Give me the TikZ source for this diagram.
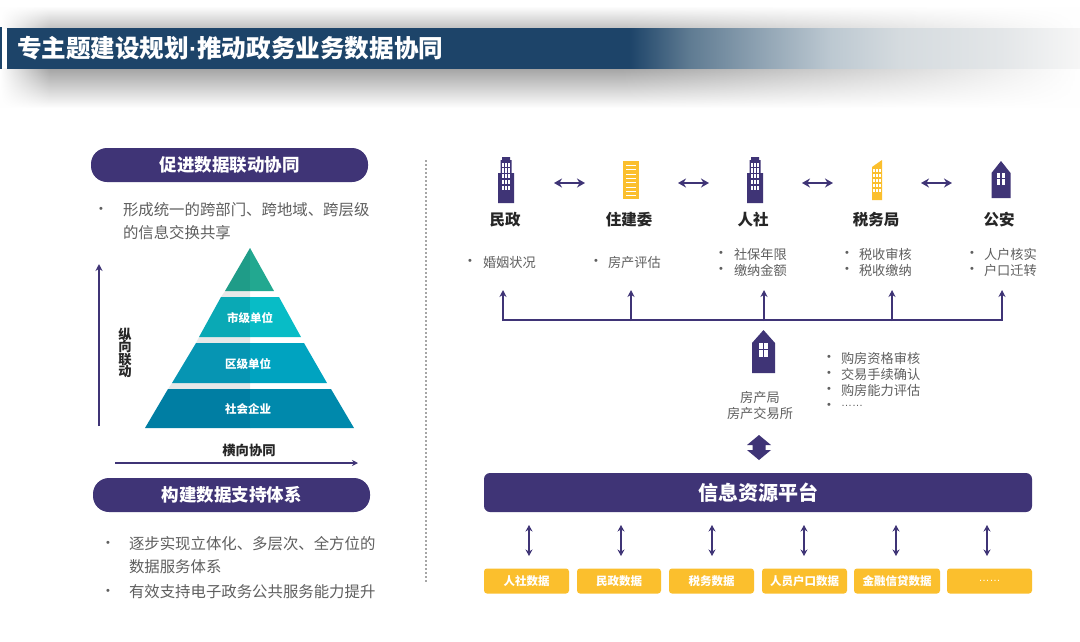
\documentclass[tikz,border=0pt]{standalone}
\usepackage{fontspec}
\setmainfont{Noto Sans CJK SC}
\newfontfamily\latinf{Liberation Sans}
\usetikzlibrary{arrows.meta,fadings,shapes.geometric}
\definecolor{navy}{HTML}{1D4469}
\definecolor{pur}{HTML}{3F3476}
\definecolor{gold}{HTML}{FBBF2D}
\definecolor{txt}{HTML}{5F5F5F}
\definecolor{pa}{HTML}{1F9C88}\definecolor{pb}{HTML}{22A890}
\definecolor{pc}{HTML}{0AA9B5}\definecolor{pd}{HTML}{08BCC6}
\definecolor{pe}{HTML}{0695B3}\definecolor{pf}{HTML}{00A3C0}
\definecolor{pg}{HTML}{007EA3}\definecolor{ph}{HTML}{0089AC}
\definecolor{ba}{HTML}{5F7B92}\definecolor{bb}{HTML}{8FA3B3}\definecolor{bc}{HTML}{BCC8D1}
\definecolor{bd}{HTML}{D5DBDF}\definecolor{be}{HTML}{E3E6E8}\definecolor{bf}{HTML}{F6F6F6}
\pgfdeclarehorizontalshading{bandshade}{100bp}{color(0bp)=(navy); color(54bp)=(navy); color(56.8bp)=(ba); color(60.1bp)=(bb); color(63.35bp)=(bc); color(66.6bp)=(bd); color(71.3bp)=(be); color(75bp)=(bf); color(100bp)=(bf)}
\tikzset{
  lab/.style={inner sep=0pt,outer sep=0pt,align=center},
  pill/.style={lab,fill=pur,rounded corners=16pt,text=white,font=\bfseries\fontsize{17.5}{20}\selectfont},
  body/.style={lab,anchor=west,text=txt,font=\fontsize{15.4}{18}\selectfont},
  small/.style={lab,anchor=west,text=txt,font=\fontsize{13.2}{15}\selectfont},
  bul/.style={lab,text=txt,font=\latinf\fontsize{11}{12}\selectfont},
  head/.style={lab,text=black!85,font=\bfseries\fontsize{15.5}{17}\selectfont},
  pyr/.style={lab,text=white,font=\bfseries\fontsize{11.5}{13}\selectfont},
  axis/.style={lab,text=black!85,font=\bfseries\fontsize{13.3}{14}\selectfont},
  databox/.style={lab,fill=gold,rounded corners=3pt,text=white,font=\bfseries\fontsize{11.5}{13}\selectfont},
  conn/.style={draw=pur,line width=1.6pt},
  upa/.style={conn,-{Stealth[length=7pt,width=7pt]}},
  dbl/.style={conn,line width=1.8pt,{Stealth[length=8pt,width=9pt]}-{Stealth[length=8pt,width=9pt]}},
  vdbl/.style={conn,line width=1.3pt,{Stealth[length=6.5pt,width=7pt]}-{Stealth[length=6.5pt,width=7pt]}},
  gapb/.style={fill=black!9},
}
% tall tower, centred on x, top y
\newcommand{\tower}[2]{\begin{scope}[shift={(#1,#2)}]
 \fill[pur] (-4,0)--(4,0)--(4,3)--(5.5,3)--(5.5,16)--(8,16)--(8,46)--(-8,46)--(-8,16)--(-5.5,16)--(-5.5,3)--(-4,3)--cycle;
 \foreach \r in {0,...,4}{\foreach \c in {-4.4,-1.1,2.2}{\fill[white] (\c,5.5+\r*5.8) rectangle ++(2.2,4.2);}}
\end{scope}}
\newcommand{\house}[6]{% cx, apex y, shoulder y, bottom y, half width, window half width
 \fill[pur] (#1,#2)--(#1+#5,#3)--(#1+#5,#4)--(#1-#5,#4)--(#1-#5,#3)--cycle;
 \pgfmathsetmacro{\wt}{#3-.5}
 \pgfmathsetmacro{\wm}{#3+(#4-#3)*.22}
 \pgfmathsetmacro{\wb}{#3+(#4-#3)*.47}
 \fill[white] (#1-#6,\wt) rectangle (#1-.7,\wm-.8);
 \fill[white] (#1+.7,\wt) rectangle (#1+#6,\wm-.8);
 \fill[white] (#1-#6,\wm+.8) rectangle (#1-.7,\wb);
 \fill[white] (#1+.7,\wm+.8) rectangle (#1+#6,\wb);
}
\begin{document}
\begin{tikzpicture}[x=1pt,y=-1pt]
\useasboundingbox (0,0) rectangle (1080,641);
\fill[white] (0,0) rectangle (1080,641);
% title band with shadow
\shade[top color=white,bottom color=black!24] (0,6) rectangle (1080,28);
\shade[top color=black!36,middle color=black!13,bottom color=white] (0,68) rectangle (1080,108);
\fill[white,path fading=west] (620,0) rectangle (1080,110);
\fill[white,path fading=east] (0,0) rectangle (50,110);
\fill[navy] (0,27) rectangle (2,69);
\fill[shading=bandshade] (7,28) rectangle (1080,68);
\node[lab,anchor=west,text=white,font=\bfseries\fontsize{24.6}{28}\selectfont] (title) at (17,48) {专主题建设规划{\latinf ·}推动政务业务数据协同};
% left column
\node[pill,minimum width=277pt,minimum height=34pt] (p1) at (229.5,165) {促进数据联动协同};
\node[bul] (b1) at (101,210) {•};
\node[body] (t1a) at (123,210) {形成统一的跨部门、跨地域、跨层级};
\node[body] (t1b) at (123,233) {的信息交换共享};
% pyramid
\fill[gapb] (225,291)--(250,291)--(250,297)--(221,297)--cycle;
\fill[gapb] (199,337)--(250,337)--(250,343)--(196,343)--cycle;
\fill[gapb] (172,383)--(250,383)--(250,389)--(168,389)--cycle;
\fill[pa] (250,248)--(250,291)--(225,291)--cycle;
\fill[pb] (250,248)--(274,291)--(250,291)--cycle;
\fill[pc] (221,297)--(250,297)--(250,337)--(199,337)--cycle;
\fill[pd] (250,297)--(279,297)--(301,337)--(250,337)--cycle;
\fill[pe] (196,343)--(250,343)--(250,383)--(172,383)--cycle;
\fill[pf] (250,343)--(304,343)--(327,383)--(250,383)--cycle;
\fill[pg] (168,389)--(250,389)--(250,428)--(145,428)--cycle;
\fill[ph] (250,389)--(331,389)--(354,428)--(250,428)--cycle;
\node[pyr] (py1) at (250,318.5) {市级单位};
\node[pyr] (py2) at (248,364.5) {区级单位};
\node[pyr] (py3) at (248,409.5) {社会企业};
\coordinate (va) at (99,426); \coordinate (vb) at (99,264);
\draw[upa] (va) -- (vb);
\coordinate (ha) at (115,463); \coordinate (hb) at (358,463);
\draw[conn,-{Stealth[length=6pt,width=6pt]}] (ha) -- (hb);
\node[axis,text width=14pt] (vl) at (125,353) {纵\\[-1.6pt]向\\[-1.6pt]联\\[-1.6pt]动};
\node[axis] (hl) at (249,450.5) {横向协同};
\node[pill,minimum width=277pt,minimum height=34pt] (p2) at (231.5,495) {构建数据支持体系};
\node[bul] (b2) at (108,544) {•};
\node[body] (t2a) at (129,544) {逐步实现立体化、多层次、全方位的};
\node[body] (t2b) at (129,567) {数据服务体系};
\node[bul] (b3) at (108,592) {•};
\node[body] (t2c) at (129,592) {有效支持电子政务公共服务能力提升};
% divider
\coordinate (da) at (426,160); \coordinate (db) at (426,583);
\draw[black!35,line width=1.2pt,dash pattern=on 2pt off 2pt] (da) -- (db);
% icons
\tower{506}{157}
\fill[gold] (623,161) rectangle (639,199);
\foreach \i in {0,...,7}{\fill[white] (626,165+\i*4.3) rectangle (636,166.1+\i*4.3);}
\tower{755}{157}
\fill[gold] (872,167)--(882,160)--(882,200)--(872,200)--cycle;
\foreach \r in {0,...,4}{\foreach \c in {873.2,876.2,879.2}{\fill[white] (\c,168.5+\r*5) rectangle ++(2.1,3.6);}}
\house{1001}{161}{173}{198}{9.5}{3.7}
% heads
\node[head] (h1) at (505,219.5) {民政};
\node[head] (h2) at (629,219.5) {住建委};
\node[head] (h3) at (753,219.5) {人社};
\node[head] (h4) at (876,219.5) {税务局};
\node[head] (h5) at (999,219.5) {公安};
% horizontal double arrows
\foreach \n/\xa/\xb in {1/554/585,2/678/709,3/802/833,4/921/952}{
  \coordinate (l\n) at (\xa,183); \coordinate (r\n) at (\xb,183);
  \draw[dbl] (l\n) -- (r\n);}
% small lists
\node[bul] at (470,262) {•}; \node[small] (s1) at (483,262.5) {婚姻状况};
\node[bul] at (596,262) {•}; \node[small] (s2) at (608,262.5) {房产评估};
\node[bul] at (721,254) {•}; \node[small] (s3a) at (734,254.5) {社保年限};
\node[bul] at (721,270) {•}; \node[small] (s3b) at (734,270.5) {缴纳金额};
\node[bul] at (847,254) {•}; \node[small] (s4a) at (859,254.5) {税收审核};
\node[bul] at (847,270) {•}; \node[small] (s4b) at (859,270.5) {税收缴纳};
\node[bul] at (972,254) {•}; \node[small] (s5a) at (984,254.5) {人户核实};
\node[bul] at (972,270) {•}; \node[small] (s5b) at (984,270.5) {户口迁转};
% bus
\coordinate (bl) at (503,320); \coordinate (br) at (1002,320);
\draw[conn] (bl) -- (br);
\foreach \n/\x in {1/503,2/631,3/764,4/892,5/1002}{
  \coordinate (ua\n) at (\x,321); \coordinate (ub\n) at (\x,290);
  \draw[upa] (ua\n) -- (ub\n);}
% centre
\house{763.5}{330}{343}{373}{11.5}{4.2}
\node[lab,text=txt,font=\fontsize{13.2}{16}\selectfont] (fj) at (760,405.5) {房产局\\房产交易所};
\node[bul] at (829,358) {•}; \node[small] (c1) at (841,358.5) {购房资格审核};
\node[bul] at (829,374) {•}; \node[small] (c2) at (841,374.5) {交易手续确认};
\node[bul] at (829,390) {•}; \node[small] (c3) at (841,390.5) {购房能力评估};
\node[bul] at (829,406) {•}; \node[small,font=\latinf\fontsize{11}{12}\selectfont] (c4) at (841,406) {……};
\fill[pur] (759,435)--(771,445)--(765.5,445)--(765.5,450)--(771,450)--(759,460)--(747,450)--(752.5,450)--(752.5,445)--(747,445)--cycle;
% platform
\node[lab,fill=pur,rounded corners=6pt,minimum width=548pt,minimum height=39pt,text=white,font=\bfseries\fontsize{20}{22}\selectfont] (plat) at (758,492.5) {信息资源平台};
% data boxes
\foreach \n/\xa/\xb/\lbl in {1/484/569/人社数据,2/577/661/民政数据,3/669/754/税务数据,4/762/847/人员户口数据,5/854/940/金融信贷数据}{
  \pgfmathsetmacro{\cenx}{(\xa+\xb)/2}\pgfmathsetmacro{\boxw}{\xb-\xa}
  \node[databox,minimum width=\boxw pt,minimum height=25pt] (d\n) at (\cenx,581) {\lbl};
}
\node[databox,font=\latinf\fontsize{11}{12}\selectfont,minimum width=85pt,minimum height=25pt] (d6) at (989.5,581) {……};
\foreach \n/\x in {1/529,2/621,3/712,4/804,5/896,6/987}{
  \coordinate (at\n) at (\x,525); \coordinate (ab\n) at (\x,556);
  \draw[vdbl] (at\n) -- (ab\n);}
\end{tikzpicture}
\end{document}
